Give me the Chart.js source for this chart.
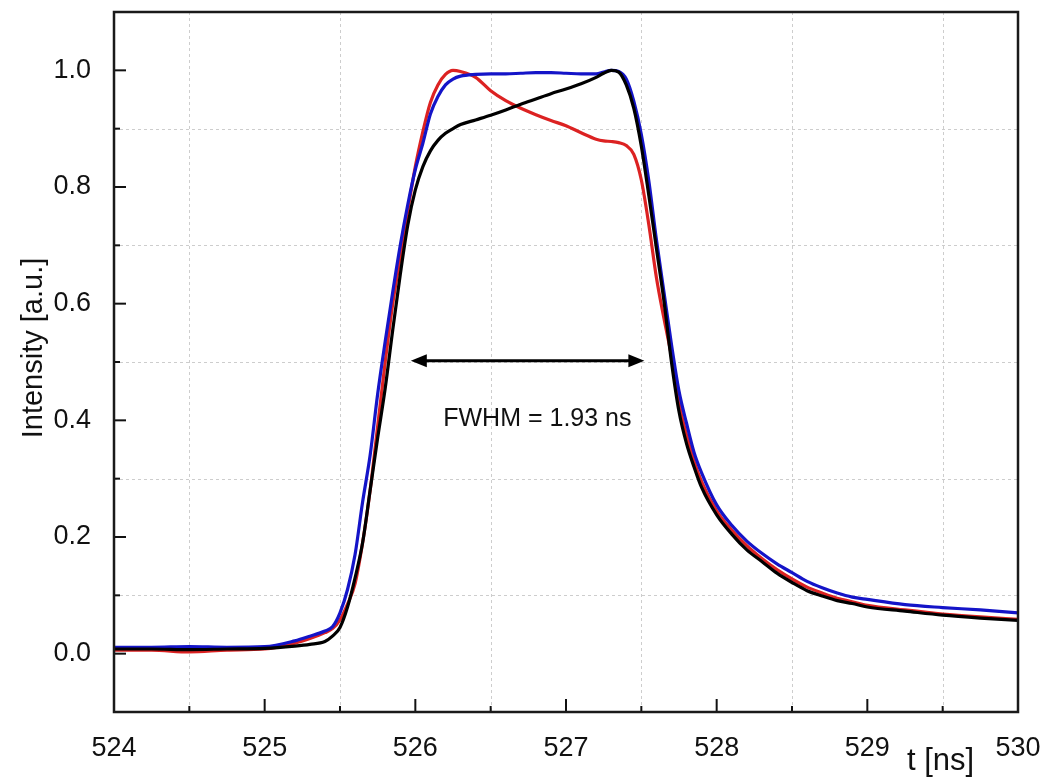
<!DOCTYPE html>
<html><head><meta charset="utf-8">
<script src="https://cdn.jsdelivr.net/npm/chart.js@4/dist/chart.umd.min.js"></script>
<style>html,body{margin:0;padding:0;background:#fff}#wrap{width:1042px;height:778px}</style>
</head><body><div id="wrap"><canvas id="c" width="1042" height="778"></canvas></div>
<script>
const timeNs = [524.0,524.25,524.5,524.75,525.0,525.2,525.3,525.4,525.45,525.5,525.55,525.6,525.65,525.7,525.75,525.8,525.85,525.9,525.95,526.0,526.05,526.1,526.15,526.2,526.25,526.3,526.4,526.5,526.6,526.7,526.8,526.9,527.0,527.1,527.2,527.25,527.3,527.35,527.4,527.45,527.5,527.55,527.6,527.65,527.7,527.75,527.8,527.85,527.9,528.0,528.1,528.2,528.3,528.4,528.5,528.6,528.7,528.8,528.9,529.0,529.25,529.5,529.75,530.0];
const blackSeries = [0.008,0.008,0.007,0.008,0.009,0.013,0.016,0.021,0.030,0.045,0.080,0.130,0.190,0.280,0.370,0.455,0.555,0.650,0.735,0.795,0.835,0.862,0.880,0.892,0.900,0.907,0.915,0.923,0.932,0.942,0.951,0.960,0.968,0.977,0.988,0.995,1.000,0.997,0.975,0.935,0.870,0.785,0.695,0.605,0.500,0.415,0.360,0.320,0.285,0.238,0.205,0.178,0.158,0.138,0.122,0.108,0.099,0.091,0.086,0.080,0.073,0.066,0.061,0.057];
const blueSeries = [0.011,0.011,0.012,0.011,0.012,0.022,0.030,0.039,0.046,0.070,0.110,0.170,0.260,0.340,0.445,0.535,0.620,0.700,0.770,0.830,0.875,0.925,0.955,0.975,0.985,0.990,0.993,0.994,0.994,0.995,0.996,0.996,0.995,0.994,0.994,0.997,1.000,0.998,0.985,0.947,0.890,0.810,0.710,0.620,0.530,0.450,0.395,0.345,0.310,0.255,0.220,0.193,0.172,0.154,0.139,0.124,0.113,0.104,0.097,0.093,0.084,0.079,0.075,0.070];
const redSeries = [0.006,0.006,0.003,0.006,0.008,0.018,0.026,0.036,0.043,0.058,0.085,0.120,0.190,0.280,0.390,0.500,0.600,0.680,0.760,0.835,0.895,0.945,0.975,0.993,1.000,0.998,0.988,0.965,0.948,0.935,0.924,0.914,0.905,0.893,0.882,0.879,0.878,0.876,0.871,0.856,0.812,0.735,0.645,0.575,0.510,0.430,0.375,0.330,0.295,0.245,0.212,0.185,0.163,0.144,0.128,0.114,0.104,0.095,0.089,0.083,0.075,0.068,0.063,0.059];
const xTickValues = [524,525,526,527,528,529,530];
const yTickValues = [0.0,0.2,0.4,0.6,0.8,1.0];
const xGridValues = [524.5,525.5,526.5,527.5,528.5,529.5];
const yGridValues = [0.1,0.3,0.5,0.7,0.9];
const fwhmArrowX = [525.97, 527.52];
const fwhmArrowY = 0.502;
const fwhmLabel = 'FWHM = 1.93 ns';
const fwhmLabelPos = [526.81, 0.402];
const xAxisTitle = 't [ns]';
const yAxisTitle = 'Intensity [a.u.]';

const FONT = '"Liberation Sans", Arial, Helvetica, sans-serif';
const pts = arr => timeNs.map((t, i) => ({x: t, y: arr[i]}));

const decor = {
  id: 'decor',
  beforeDatasetsDraw(chart) {
    const {ctx, chartArea: a, scales: {x, y}} = chart;
    ctx.save();
    ctx.strokeStyle = '#cdcdcd';
    ctx.lineWidth = 1;
    ctx.setLineDash([3, 3]);
    xGridValues.forEach(v => {
      const px = Math.round(x.getPixelForValue(v)) + 0.5;
      ctx.beginPath(); ctx.moveTo(px, a.top); ctx.lineTo(px, a.bottom); ctx.stroke();
    });
    yGridValues.forEach(v => {
      const py = Math.round(y.getPixelForValue(v)) + 0.5;
      ctx.beginPath(); ctx.moveTo(a.left, py); ctx.lineTo(a.right, py); ctx.stroke();
    });
    ctx.restore();
  },
  afterDatasetsDraw(chart) {
    const {ctx, chartArea: a, scales: {x, y}} = chart;
    ctx.save();
    ctx.strokeStyle = '#111';
    ctx.lineWidth = 2;
    xTickValues.forEach(v => {
      const px = x.getPixelForValue(v);
      ctx.beginPath(); ctx.moveTo(px, a.bottom); ctx.lineTo(px, a.bottom - 13); ctx.stroke();
    });
    xGridValues.forEach(v => {
      const px = x.getPixelForValue(v);
      ctx.beginPath(); ctx.moveTo(px, a.bottom); ctx.lineTo(px, a.bottom - 6); ctx.stroke();
    });
    yTickValues.forEach(v => {
      const py = y.getPixelForValue(v);
      ctx.beginPath(); ctx.moveTo(a.left, py); ctx.lineTo(a.left + 12, py); ctx.stroke();
    });
    yGridValues.forEach(v => {
      const py = y.getPixelForValue(v);
      ctx.beginPath(); ctx.moveTo(a.left, py); ctx.lineTo(a.left + 6, py); ctx.stroke();
    });
    ctx.strokeStyle = '#1a1a1a';
    ctx.lineWidth = 2.5;
    ctx.strokeRect(a.left, a.top, a.right - a.left, a.bottom - a.top);
    const x1 = x.getPixelForValue(fwhmArrowX[0]);
    const x2 = x.getPixelForValue(fwhmArrowX[1]);
    const ya = y.getPixelForValue(fwhmArrowY);
    const hl = 16, hw = 6.5;
    ctx.strokeStyle = '#000';
    ctx.fillStyle = '#000';
    ctx.lineWidth = 3;
    ctx.beginPath(); ctx.moveTo(x1 + hl - 2, ya); ctx.lineTo(x2 - hl + 2, ya); ctx.stroke();
    ctx.beginPath(); ctx.moveTo(x1, ya); ctx.lineTo(x1 + hl, ya - hw); ctx.lineTo(x1 + hl, ya + hw); ctx.closePath(); ctx.fill();
    ctx.beginPath(); ctx.moveTo(x2, ya); ctx.lineTo(x2 - hl, ya - hw); ctx.lineTo(x2 - hl, ya + hw); ctx.closePath(); ctx.fill();
    ctx.font = '25px ' + FONT;
    ctx.textAlign = 'center';
    ctx.textBaseline = 'middle';
    ctx.fillStyle = '#111';
    ctx.fillText(fwhmLabel, x.getPixelForValue(fwhmLabelPos[0]), y.getPixelForValue(fwhmLabelPos[1]));
    ctx.font = '31px ' + FONT;
    ctx.textAlign = 'left';
    ctx.textBaseline = 'alphabetic';
    ctx.fillText(xAxisTitle, a.right - 111, 770);
    ctx.save();
    ctx.translate(42, 348);
    ctx.rotate(-Math.PI / 2);
    ctx.font = '29px ' + FONT;
    ctx.textAlign = 'center';
    ctx.textBaseline = 'alphabetic';
    ctx.fillText(yAxisTitle, 0, 0);
    ctx.restore();
    ctx.restore();
  }
};

const ds = (label, data, color) => ({
  label, data: pts(data), borderColor: color, backgroundColor: color,
  borderWidth: 3.2, pointRadius: 0, fill: false, cubicInterpolationMode: 'monotone'
});

new Chart(document.getElementById('c'), {
  type: 'line',
  data: {
    datasets: [
      ds('black', blackSeries, '#000000'),
      ds('blue', blueSeries, '#1414c8'),
      ds('red', redSeries, '#dc2222')
    ]
  },
  options: {
    responsive: false,
    animation: false,
    devicePixelRatio: 1,
    layout: {padding: {top: 12, right: 24, left: 0, bottom: 0}},
    plugins: {legend: {display: false}, tooltip: {enabled: false}},
    scales: {
      x: {
        type: 'linear', min: 524, max: 530,
        grid: {display: false}, border: {display: false},
        afterBuildTicks: s => { s.ticks = xTickValues.map(v => ({value: v})); },
        ticks: {
          autoSkip: false, maxRotation: 0, padding: 12, color: '#111',
          font: {family: FONT, size: 27},
          callback: v => String(v)
        },
        afterFit: s => { s.height = 66; s.paddingLeft = 0; s.paddingRight = 0; }
      },
      y: {
        type: 'linear', min: -0.1, max: 1.1,
        grid: {display: false}, border: {display: false},
        afterBuildTicks: s => { s.ticks = yTickValues.map(v => ({value: v})); },
        ticks: {
          autoSkip: false, padding: 15, color: '#111',
          font: {family: FONT, size: 27},
          callback: v => Number(v).toFixed(1)
        },
        afterFit: s => { s.width = 114; s.paddingTop = 0; s.paddingBottom = 0; }
      }
    }
  },
  plugins: [decor]
});
</script>
</body></html>
